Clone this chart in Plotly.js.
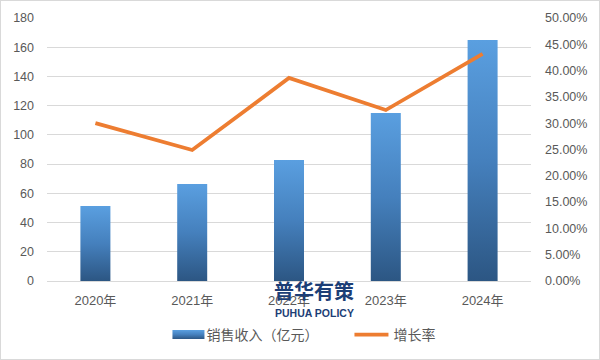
<!DOCTYPE html>
<html><head><meta charset="utf-8">
<script src="https://cdn.plot.ly/plotly-3.0.1.min.js"></script>
<style>
html,body{margin:0;padding:0;background:#fff;}
#chart{width:598px;height:358px;border:1px solid #d9d9d9;}
</style></head>
<body><div id="chart"></div>
<script>
const categories = ['2020年','2021年','2022年','2023年','2024年'];
const revenue = [51.3, 66.4, 82.8, 115, 165];
const growth = [0.30, 0.249, 0.386, 0.325, 0.432];
const leftTicks = [0,20,40,60,80,100,120,140,160,180];
const rightTicks = [0,0.05,0.1,0.15,0.2,0.25,0.3,0.35,0.4,0.45,0.5];

const font = {family:'"Liberation Sans","Noto Sans CJK SC",sans-serif', size:12.5, color:'#595959'};

const traces = [
 {type:'bar', x:categories, y:revenue, name:'销售收入（亿元）', width:0.31,
  marker:{color:'#4a86c5'}, yaxis:'y'},
 {type:'scatter', mode:'lines', x:categories, y:growth, name:'增长率',
  line:{color:'#ED7D31', width:3.8}, yaxis:'y2'}
];
const layout = {
 width:598, height:358,
 margin:{l:46, r:68, t:17, b:78},
 paper_bgcolor:'#fff', plot_bgcolor:'#fff',
 font:font, showlegend:true,
 xaxis:{tickfont:{...font, size:13}, showgrid:false, showline:false, ticks:'', ticklabelstandoff:10},
 yaxis:{range:[0,180], tickvals:leftTicks, gridcolor:'#d9d9d9', zeroline:true, zerolinecolor:'#d9d9d9',
   tickfont:font, ticklabelstandoff:12, showline:false},
 yaxis2:{range:[0,0.5], overlaying:'y', side:'right', tickvals:rightTicks, tickformat:'.2%',
   showgrid:false, zeroline:false, tickfont:font, ticklabelstandoff:13},
 legend:{orientation:'h', xref:'container', x:0.27, xanchor:'left', yref:'container', y:0.067, yanchor:'middle',
   itemwidth:34, entrywidth:138, font:{...font, size:14}},
 annotations:[
  {text:'<b>普华有策</b>', xref:'paper', yref:'paper', x:0.552, y:-0.038, xanchor:'center', yanchor:'middle', showarrow:false,
   font:{family:'"Noto Sans CJK SC",sans-serif', size:20, color:'#1c3e76'}},
  {text:'<b>PUHUA POLICY</b>', xref:'paper', yref:'paper', x:0.552, y:-0.122, xanchor:'center', yanchor:'middle', showarrow:false,
   font:{family:'"Liberation Sans Narrow","Liberation Sans",sans-serif', size:10.5, color:'#1c3e76'}}
 ]
};
Plotly.newPlot('chart', traces, layout, {displayModeBar:false, staticPlot:true}).then(function(gd){
 const svg = gd.querySelector('svg.main-svg');
 const ns='http://www.w3.org/2000/svg';
 let defs = svg.querySelector('defs');
 const lg = document.createElementNS(ns,'linearGradient');
 lg.setAttribute('id','barGrad'); lg.setAttribute('x1','0'); lg.setAttribute('y1','0');
 lg.setAttribute('x2','0'); lg.setAttribute('y2','1');
 [['0','#5a9fe0'],['0.5','#4580bd'],['1','#2c5683']].forEach(function(s){
  const st=document.createElementNS(ns,'stop'); st.setAttribute('offset',s[0]); st.setAttribute('stop-color',s[1]); lg.appendChild(st);
 });
 defs.appendChild(lg);
 gd.querySelectorAll('.bars path').forEach(function(p){ p.style.fill='url(#barGrad)'; });
 gd.querySelectorAll('.legendpoints path').forEach(function(p){
  if (p.classList.contains('legendbar') || (p.style.fill && p.style.fill!=='none' && p.style.fill.indexOf('237, 125')<0)) {
   p.setAttribute('d','M-12,-4.5h32v9h-32z');
   p.style.fill='url(#barGrad)';
  }
 });
});
</script></body></html>
